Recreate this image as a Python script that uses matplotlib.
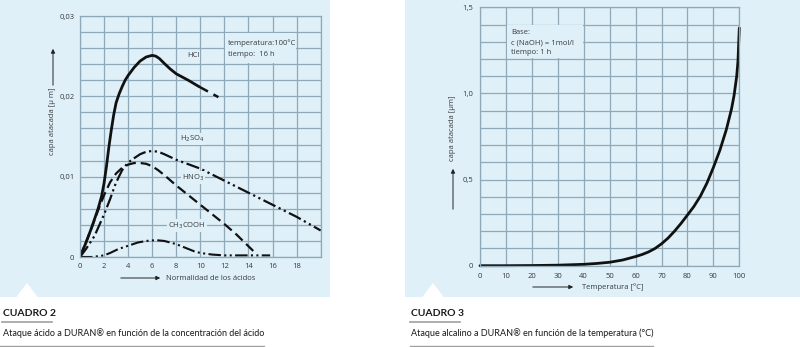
import matplotlib
matplotlib.use("Agg")
import matplotlib.pyplot as plt
from matplotlib import font_manager
from matplotlib.patches import Rectangle, Polygon, FancyArrowPatch
from matplotlib.lines import Line2D


# acid attack (left chart): normality vs etched layer (um)
HCL_X = [0, 0.5, 1.0, 1.5, 1.8, 2.0, 2.2, 2.4, 2.6, 2.8, 3.0, 3.25, 3.5, 3.75, 4.0, 4.5, 5.0, 5.5, 6.0, 6.3,
         6.6, 7.0, 7.5, 8.0, 9.0, 9.9]
HCL_Y = [0, 0.0018, 0.0038, 0.006, 0.0076, 0.0092, 0.0113, 0.0137, 0.0158, 0.0177, 0.0192, 0.0203, 0.0212,
         0.022, 0.0226, 0.0236, 0.0244, 0.0249, 0.0251, 0.025, 0.0247, 0.0241, 0.0234, 0.0228, 0.022, 0.0212]
HCL_TAIL_X = [9.9, 11.5]
HCL_TAIL_Y = [0.0212, 0.0199]

H2SO4_X = [0, 0.5, 1.2, 2.0, 2.5, 2.9, 3.2, 3.5, 3.9, 4.3, 4.7, 5.0, 5.5, 6.0, 6.5, 7.0, 8.0, 10, 12, 14, 16,
           18, 20]
H2SO4_Y = [0, 0.001, 0.0026, 0.0053, 0.0072, 0.0089, 0.0099, 0.0108, 0.0116, 0.0121, 0.0125, 0.0128, 0.0131,
           0.0132, 0.0131, 0.0128, 0.0121, 0.011, 0.0095, 0.008, 0.0065, 0.005, 0.0033]

HNO3_X = [0, 0.7, 1.5, 2.0, 2.5, 3.0, 3.5, 4.0, 4.5, 5.0, 5.5, 6.0, 6.5, 7.0, 8.0, 9.0, 10.0, 11.0, 12.0, 13.0,
          14.5]
HNO3_Y = [0, 0.0026, 0.0058, 0.0077, 0.0093, 0.0104, 0.0111, 0.0115, 0.0117, 0.0117, 0.0116, 0.0113, 0.0108,
          0.0102, 0.0089, 0.0077, 0.0065, 0.0053, 0.0041, 0.0028, 0.0006]

CH3COOH_X = [0, 1.0, 1.5, 2.0, 2.5, 3.2, 4.0, 4.8, 5.5, 6.3, 7.0, 7.5, 8.0, 8.5, 9.0, 9.5, 10.0, 11.0, 12.0,
             14.0, 15.8]
CH3COOH_Y = [0, 0, 0.0001, 0.0002, 0.0005, 0.001, 0.0014, 0.0018, 0.002, 0.0021, 0.002, 0.0018, 0.0016,
             0.0013, 0.001, 0.0007, 0.0005, 0.0003, 0.0002, 0.0002, 0.0002]

ACID_XTICKS = [0, 2, 4, 6, 8, 10, 12, 14, 16, 18, 20]
ACID_XLABELS = ["0", "2", "4", "6", "8", "10", "12", "14", "16", "18", ""]
ACID_YTICKS = [0, 0.01, 0.02, 0.03]
ACID_YLABELS = ["0", "0,01", "0,02", "0,03"]

# alkaline attack (right chart): temperature vs etched layer (um)
TEMP_X = [0, 10, 20, 30, 40, 45, 50, 55, 60, 62.5, 65, 67.5, 70, 72.5, 75, 77.5, 80, 82.5, 85, 87.5, 90,
          92.5, 95, 97, 98, 99, 99.5, 100]
TEMP_Y = [0, 0, 0.001, 0.003, 0.008, 0.013, 0.02, 0.033, 0.053, 0.065, 0.08, 0.1, 0.127, 0.16, 0.2, 0.245,
          0.294, 0.344, 0.404, 0.479, 0.57, 0.67, 0.79, 0.91, 0.99, 1.1, 1.19, 1.38]
TEMP_XTICKS = [0, 10, 20, 30, 40, 50, 60, 70, 80, 90, 100]
TEMP_YTICKS = [0, 0.5, 1.0, 1.5]
TEMP_YLABELS = ["0", "0,5", "1,0", "1,5"]

W, H = 800, 347
BG = "#dff0f9"
GRID = "#8fa9b8"
INK = "#3a3a3a"

installed = {f.name for f in font_manager.fontManager.ttflist}
BODY = "Open Sans" if "Open Sans" in installed else "DejaVu Sans"
CAPTION = "Lato" if "Lato" in installed else BODY
plt.rcParams["font.family"] = [BODY, "DejaVu Sans"]


def fx(x):
    return x / W


def fy(y):
    return 1 - y / H


def arrow(fig, x0, y0, x1, y1):
    fig.add_artist(FancyArrowPatch((fx(x0), fy(y0)), (fx(x1), fy(y1)), transform=fig.transFigure,
                                   arrowstyle="-|>", mutation_scale=6, lw=0.7, color="#222222"))


def style_axes(ax):
    ax.set_facecolor("none")
    ax.grid(True, which="both", color=GRID, lw=0.9)
    ax.set_axisbelow(True)
    for s in ax.spines.values():
        s.set_color(GRID)
        s.set_linewidth(0.9)
    ax.tick_params(which="both", length=0, labelsize=5.5, labelcolor=INK)


fig = plt.figure(figsize=(W / 100, H / 100), dpi=100)

# panel backgrounds with small notch
for x0, x1, tip in [(0, 330, 27), (405, 800, 433)]:
    fig.add_artist(Rectangle((fx(x0), fy(297)), fx(x1 - x0), 297 / H, transform=fig.transFigure,
                             facecolor=BG, edgecolor="none", zorder=-2))
    fig.add_artist(Polygon([(fx(tip - 11), fy(297.5)), (fx(tip), fy(283)), (fx(tip + 11), fy(297.5))],
                           closed=True, transform=fig.transFigure, facecolor="white", edgecolor="none",
                           zorder=-1))

# left chart
ax1 = fig.add_axes([fx(80), fy(257), fx(240.7), 241 / H])
style_axes(ax1)
ax1.set_xlim(0, 20)
ax1.set_ylim(0, 0.03)
ax1.set_xticks(ACID_XTICKS)
ax1.set_xticklabels(ACID_XLABELS)
ax1.set_yticks(ACID_YTICKS)
ax1.set_yticklabels(ACID_YLABELS)
ax1.set_yticks([i * 0.002 for i in range(16)], minor=True)
ax1.tick_params(axis="x", pad=4)
ax1.tick_params(axis="y", pad=4)

ax1.plot(HCL_X, HCL_Y, color="#111111", lw=2.0, solid_capstyle="round", solid_joinstyle="round")
ax1.plot(HCL_TAIL_X, HCL_TAIL_Y, color="#111111", lw=1.8, dashes=(4, 2.5))
ax1.plot(H2SO4_X, H2SO4_Y, color="#111111", lw=1.6, dashes=(6, 1.6, 1, 1.6, 1, 1.6))
ax1.plot(HNO3_X, HNO3_Y, color="#111111", lw=1.6, dashes=(4.5, 2.2))
ax1.plot(CH3COOH_X, CH3COOH_Y, color="#111111", lw=1.5, dashes=(6, 1.6, 1, 1.6, 1, 1.6))

lbl = dict(fontsize=5.5, color=INK, ha="center", va="center",
           bbox=dict(facecolor=BG, edgecolor="none", pad=0.8))
ax1.text(9.4, 0.0251, "HCl", **lbl)
ax1.text(9.3, 0.0147, "H$_2$SO$_4$", **lbl)
ax1.text(9.4, 0.0099, "HNO$_3$", **lbl)
ax1.text(8.9, 0.0039, "CH$_3$COOH", **lbl)

fig.add_artist(Rectangle((fx(225), fy(63)), fx(71), 30 / H, transform=fig.transFigure,
                         facecolor=BG, edgecolor="none", zorder=1))
fig.text(fx(228), fy(43), "temperatura:100°C", fontsize=5.5, color=INK, va="center")
fig.text(fx(228), fy(54), "tiempo:  16 h", fontsize=5.5, color=INK, va="center")

fig.text(fx(53), fy(121), "capa atacada [µ m]", rotation=90, fontsize=5.5, color=INK,
         ha="center", va="center")
arrow(fig, 53, 88, 53, 46)
arrow(fig, 118, 278, 163, 278)
fig.text(fx(166), fy(278), "Normalidad de los ácidos", fontsize=5.5, color=INK, va="center")

# right chart
ax2 = fig.add_axes([fx(480), fy(265.7), fx(259.3), 258.4 / H])
style_axes(ax2)
ax2.set_xlim(0, 100)
ax2.set_ylim(0, 1.5)
ax2.set_xticks(TEMP_XTICKS)
ax2.set_yticks(TEMP_YTICKS)
ax2.set_yticklabels(TEMP_YLABELS)
ax2.set_yticks([i * 0.1 for i in range(16)], minor=True)
ax2.tick_params(axis="x", pad=5)
ax2.tick_params(axis="y", pad=5)
ax2.plot(TEMP_X, TEMP_Y, color="#111111", lw=2.0, solid_capstyle="round", solid_joinstyle="round",
         clip_on=False)

fig.add_artist(Rectangle((fx(507), fy(58)), fx(76), 33 / H, transform=fig.transFigure,
                         facecolor=BG, edgecolor="none", zorder=1))
fig.text(fx(511), fy(32), "Base:", fontsize=5.5, color=INK, va="center")
fig.text(fx(511), fy(42.5), "c (NaOH) = 1mol/l", fontsize=5.5, color=INK, va="center")
fig.text(fx(511), fy(53), "tiempo: 1 h", fontsize=5.5, color=INK, va="center")

fig.text(fx(453), fy(128), "capa atacada [µm]", rotation=90, fontsize=5.5, color=INK,
         ha="center", va="center")
arrow(fig, 453, 212, 453, 166)
arrow(fig, 530, 287, 576, 287)
fig.text(fx(582), fy(287), "Temperatura [°C]", fontsize=5.5, color=INK, va="center")

# captions
for x0, num, text, end in [
    (2, "CUADRO 2", "Ataque ácido a DURAN® en función de la concentración del ácido", 264),
    (410, "CUADRO 3", "Ataque alcalino a DURAN® en función de la temperatura (°C)", 653),
]:
    fig.text(fx(x0 + 1), fy(313), num, fontsize=7.5, fontweight="bold", color="#1a1a1a",
             va="center", family=[CAPTION, "DejaVu Sans"])
    fig.add_artist(Line2D([fx(x0), fx(x0 + 50)], [fy(322), fy(322)], transform=fig.transFigure,
                          color="#a0a0a0", lw=1.2))
    fig.text(fx(x0 + 1), fy(333), text, fontsize=6.5, color="#1a1a1a", va="center",
             family=[CAPTION, "DejaVu Sans"])
    fig.add_artist(Line2D([fx(0 if x0 < 5 else x0), fx(end)], [fy(345.5), fy(345.5)],
                          transform=fig.transFigure, color="#a0a0a0", lw=1.0))

fig.savefig("out.png", dpi=100, facecolor="white")
